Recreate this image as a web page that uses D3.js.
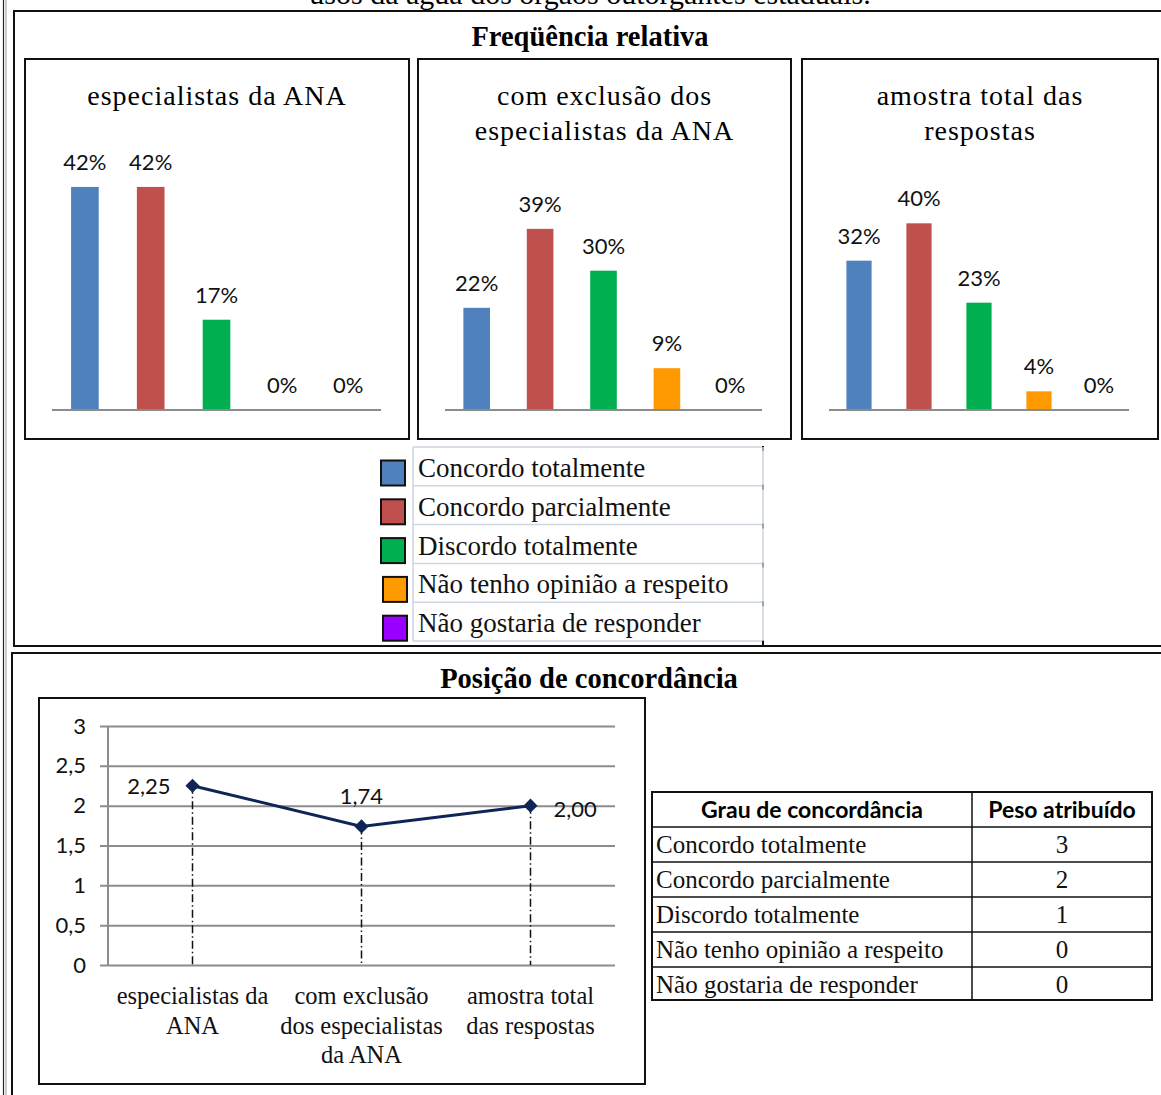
<!DOCTYPE html>
<html>
<head>
<meta charset="utf-8">
<script src="https://cdn.jsdelivr.net/npm/d3@7"></script>
<style>
  html, body { margin: 0; padding: 0; background: #fff; }
  svg { display: block; }
  .serif { font-family: "Liberation Serif", "Times New Roman", serif; }
  .sans { font-family: Lato, "Liberation Sans", sans-serif; }
</style>
</head>
<body>
<script>
// ---- data ----
const categories = [
  "Concordo totalmente",
  "Concordo parcialmente",
  "Discordo totalmente",
  "Não tenho opinião a respeito",
  "Não gostaria de responder"
];
const colors = ["#4F81BD", "#C0504D", "#00B050", "#FF9900", "#9900FF"];

const groupTitles = [
  ["especialistas da ANA"],
  ["com exclusão dos", "especialistas da ANA"],
  ["amostra total das", "respostas"]
];
const especialistasANA = [0.42, 0.42, 0.17, 0.00, 0.00];
const semEspecialistas = [0.22, 0.39, 0.30, 0.09, 0.00];
const amostraTotal     = [0.32, 0.40, 0.23, 0.04, 0.00];
const groupValues = [especialistasANA, semEspecialistas, amostraTotal];

const lineCategories = [
  ["especialistas da", "ANA"],
  ["com exclusão", "dos especialistas", "da ANA"],
  ["amostra total", "das respostas"]
];
const concordancia = [2.25, 1.74, 2.00];
const yTicks = [0, 0.5, 1, 1.5, 2, 2.5, 3];

const weightHeader = ["Grau de concordância", "Peso atribuído"];
const weights = [3, 2, 1, 0, 0];

// ---- setup ----
const W = 1161, H = 1095;
const svg = d3.select("body").append("svg").attr("width", W).attr("height", H);
const ptBR = d3.formatLocale({ decimal: ",", thousands: ".", grouping: [3], currency: ["R$", ""] });
const pct = d3.format(".0%");

// page frames
svg.append("line").attr("x1", 3.5).attr("x2", 3.5).attr("y1", 0).attr("y2", H)
  .attr("stroke", "#222").attr("stroke-width", 1.2);
svg.append("line").attr("x1", 6).attr("x2", 6).attr("y1", 0).attr("y2", H)
  .attr("stroke", "#999").attr("stroke-width", 1);
svg.append("rect").attr("x", 14).attr("y", 11).attr("width", 1170).attr("height", 635)
  .attr("fill", "none").attr("stroke", "#111").attr("stroke-width", 2);
svg.append("rect").attr("x", 12).attr("y", 653).attr("width", 1170).attr("height", 460)
  .attr("fill", "none").attr("stroke", "#111").attr("stroke-width", 2);

// caption line running off the top of the page
svg.append("text").attr("class", "serif")
  .attr("x", 590).attr("y", 4).attr("text-anchor", "middle")
  .attr("font-size", 30)
  .text("usos da água dos órgãos outorgantes estaduais.");

// ---- section 1: relative frequency ----
svg.append("text").attr("class", "serif")
  .attr("x", 590).attr("y", 46).attr("text-anchor", "middle")
  .attr("font-size", 28.5).attr("font-weight", "bold")
  .text("Freqüência relativa");

const panels = [
  { x0: 25,  x1: 409, ax0: 52,  ax1: 381,  top: 171 },
  { x0: 418, x1: 791, ax0: 445, ax1: 762,  top: 201 },
  { x0: 802, x1: 1158, ax0: 829, ax1: 1129, top: 200 }
];
const panelY0 = 59, panelY1 = 439, baseY = 410;

panels.forEach((p, i) => {
  const g = svg.append("g");
  g.append("rect").attr("x", p.x0).attr("y", panelY0)
    .attr("width", p.x1 - p.x0).attr("height", panelY1 - panelY0)
    .attr("fill", "#fff").attr("stroke", "#111").attr("stroke-width", 2);

  const cx = (p.x0 + p.x1) / 2;
  g.append("text").attr("class", "serif")
    .attr("x", cx).attr("y", 105).attr("text-anchor", "middle")
    .attr("font-size", 28).attr("letter-spacing", 1)
    .selectAll("tspan").data(groupTitles[i]).join("tspan")
    .attr("x", cx).attr("dy", (d, j) => j === 0 ? 0 : 35)
    .text(d => d);

  const x = d3.scaleBand().domain(categories).range([p.ax0, p.ax1])
    .paddingInner(0.58).paddingOuter(0.29);
  const y = d3.scaleLinear().domain([0, 0.45]).range([baseY, p.top]);
  const rows = categories.map((c, k) => ({ c, v: groupValues[i][k], col: colors[k] }));

  g.selectAll("rect.bar").data(rows).join("rect").attr("class", "bar")
    .attr("x", d => x(d.c)).attr("width", x.bandwidth())
    .attr("y", d => y(d.v)).attr("height", d => baseY - y(d.v))
    .attr("fill", d => d.col);

  g.append("line").attr("x1", p.ax0).attr("x2", p.ax1)
    .attr("y1", baseY).attr("y2", baseY)
    .attr("stroke", "#8c8c8c").attr("stroke-width", 2);

  g.selectAll("text.lbl").data(rows).join("text").attr("class", "lbl sans")
    .attr("x", d => x(d.c) + x.bandwidth() / 2)
    .attr("y", d => y(d.v) - 17)
    .attr("text-anchor", "middle").attr("font-size", 22).attr("fill", "#111")
    .text(d => pct(d.v));
});

// legend
const legX = 413, legX1 = 763, legY0 = 447, legRow = 38.8;
const leg = svg.append("g");
categories.forEach((c, k) => {
  const yTop = legY0 + k * legRow;
  const sx = k < 3 ? 381 : 383;
  leg.append("rect").attr("x", sx).attr("y", yTop + 13.5).attr("width", 24).attr("height", 25)
    .attr("fill", colors[k]).attr("stroke", "#111").attr("stroke-width", 2);
  leg.append("text").attr("class", "serif")
    .attr("x", 418).attr("y", yTop + 30).attr("font-size", 27).attr("fill", "#111")
    .text(c);
});
d3.range(categories.length + 1).forEach(k => {
  const yy = legY0 + k * legRow;
  leg.append("line").attr("x1", legX).attr("x2", legX1).attr("y1", yy).attr("y2", yy)
    .attr("stroke", "#cdd5e0").attr("stroke-width", 1.5);
  leg.append("line").attr("x1", legX1).attr("x2", legX1).attr("y1", yy - 1).attr("y2", yy + 4)
    .attr("stroke", "#111").attr("stroke-width", 2);
});
leg.append("line").attr("x1", legX).attr("x2", legX)
  .attr("y1", legY0).attr("y2", legY0 + categories.length * legRow)
  .attr("stroke", "#cdd5e0").attr("stroke-width", 1.5);
leg.append("line").attr("x1", legX1).attr("x2", legX1)
  .attr("y1", legY0).attr("y2", legY0 + categories.length * legRow)
  .attr("stroke", "#cdd5e0").attr("stroke-width", 1.5);

// ---- section 2: agreement position ----
svg.append("text").attr("class", "serif")
  .attr("x", 589).attr("y", 688).attr("text-anchor", "middle")
  .attr("font-size", 28.5).attr("font-weight", "bold")
  .text("Posição de concordância");

const lc = svg.append("g");
lc.append("rect").attr("x", 39).attr("y", 698).attr("width", 606).attr("height", 386)
  .attr("fill", "#fff").attr("stroke", "#111").attr("stroke-width", 2);

const plotL = 108, plotR = 615, gridL = 100;
const ly = d3.scaleLinear().domain([0, 3]).range([965, 726]);
const lx = d3.scalePoint().domain(lineCategories.map(d => d.join(" "))).range([plotL, plotR]).padding(0.5);

const yAxis = d3.axisLeft(ly).tickValues(yTicks)
  .tickSize(-(plotR - gridL)).tickPadding(14)
  .tickFormat(d => ptBR.format("~g")(d));
const ya = lc.append("g").attr("transform", `translate(${gridL},0)`).call(yAxis);
ya.select(".domain").remove();
ya.selectAll(".tick line").attr("stroke", "#8c8c8c").attr("stroke-width", 2);
ya.selectAll(".tick text").attr("class", "sans").attr("font-size", 22).attr("fill", "#111");
lc.append("line").attr("x1", plotL).attr("x2", plotL).attr("y1", ly(3)).attr("y2", ly(0))
  .attr("stroke", "#8c8c8c").attr("stroke-width", 2);

const pts = lineCategories.map((c, k) => ({ key: c.join(" "), lines: c, v: concordancia[k] }));

// drop lines
lc.selectAll("line.drop").data(pts).join("line").attr("class", "drop")
  .attr("x1", d => lx(d.key)).attr("x2", d => lx(d.key))
  .attr("y1", d => ly(d.v)).attr("y2", ly(0))
  .attr("stroke", "#111").attr("stroke-width", 1.5)
  .attr("stroke-dasharray", "8,3,1.5,3");

lc.append("path").datum(pts)
  .attr("d", d3.line().x(d => lx(d.key)).y(d => ly(d.v)))
  .attr("fill", "none").attr("stroke", "#0f2557").attr("stroke-width", 3);

lc.selectAll("path.mk").data(pts).join("path").attr("class", "mk")
  .attr("d", d3.symbol(d3.symbolSquare, 100))
  .attr("transform", d => `translate(${lx(d.key)},${ly(d.v)}) rotate(45)`)
  .attr("fill", "#0f2557");

// value labels: left, above, right
const lblPos = [
  { dx: -22, dy: 8, anchor: "end" },
  { dx: 0, dy: -22, anchor: "middle" },
  { dx: 23, dy: 11, anchor: "start" }
];
lc.selectAll("text.val").data(pts).join("text").attr("class", "val sans")
  .attr("x", (d, k) => lx(d.key) + lblPos[k].dx)
  .attr("y", (d, k) => ly(d.v) + lblPos[k].dy)
  .attr("text-anchor", (d, k) => lblPos[k].anchor)
  .attr("font-size", 22).attr("fill", "#111")
  .text(d => ptBR.format(".2f")(d.v));

// category labels
lc.selectAll("text.cat").data(pts).join("text").attr("class", "cat serif")
  .attr("text-anchor", "middle").attr("font-size", 24.5).attr("fill", "#111")
  .each(function (d) {
    d3.select(this).selectAll("tspan").data(d.lines).join("tspan")
      .attr("x", lx(d.key)).attr("y", (t, j) => 1004 + j * 29.5)
      .text(t => t);
  });

// weights table
const tb = svg.append("g");
const tX0 = 652, tX1 = 1152, tXm = 972;
const rowYs = [792, 827, 862, 897, 932, 967, 1000];
tb.append("rect").attr("x", tX0).attr("y", rowYs[0]).attr("width", tX1 - tX0)
  .attr("height", rowYs[6] - rowYs[0]).attr("fill", "#fff")
  .attr("stroke", "#111").attr("stroke-width", 2);
tb.append("line").attr("x1", tXm).attr("x2", tXm).attr("y1", rowYs[0]).attr("y2", rowYs[6])
  .attr("stroke", "#111").attr("stroke-width", 1.5);
rowYs.slice(1, 6).forEach(yy => {
  tb.append("line").attr("x1", tX0).attr("x2", tX1).attr("y1", yy).attr("y2", yy)
    .attr("stroke", "#111").attr("stroke-width", 1.5);
});
tb.append("text").attr("class", "sans").attr("x", (tX0 + tXm) / 2).attr("y", 818)
  .attr("text-anchor", "middle").attr("font-size", 23).attr("font-weight", "bold")
  .text(weightHeader[0]);
tb.append("text").attr("class", "sans").attr("x", (tXm + tX1) / 2).attr("y", 818)
  .attr("text-anchor", "middle").attr("font-size", 23).attr("font-weight", "bold")
  .text(weightHeader[1]);
categories.forEach((c, k) => {
  const base = rowYs[k + 1] + 26;
  tb.append("text").attr("class", "serif").attr("x", 656).attr("y", base)
    .attr("font-size", 25).attr("fill", "#111").text(c);
  tb.append("text").attr("class", "serif").attr("x", (tXm + tX1) / 2).attr("y", base)
    .attr("text-anchor", "middle").attr("font-size", 25).attr("fill", "#111").text(weights[k]);
});
</script>
</body>
</html>
